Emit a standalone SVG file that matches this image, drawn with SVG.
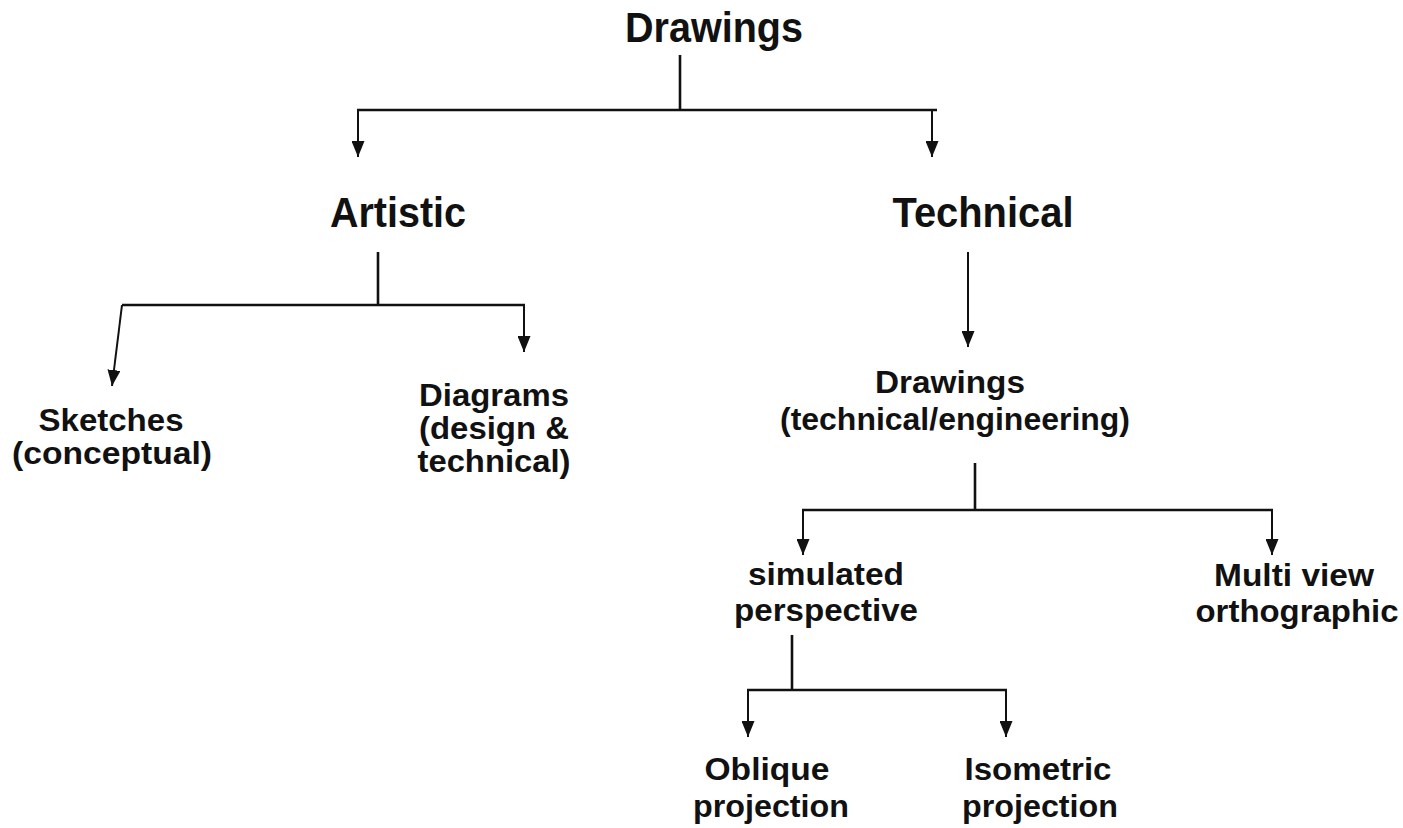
<svg xmlns="http://www.w3.org/2000/svg" width="1403" height="828" viewBox="0 0 1403 828">
<defs>
<style>
.t1{font-family:"Liberation Sans",Arial,sans-serif;font-weight:bold;font-size:42px;fill:#111;text-anchor:middle}
.t2{font-family:"Liberation Sans",Arial,sans-serif;font-weight:bold;font-size:31px;fill:#111;text-anchor:middle}
.c{stroke:#111;stroke-width:2.6;fill:none}
.a{stroke:#111;stroke-width:2;fill:none;marker-end:url(#ah)}
</style>
<marker id="ah" viewBox="0 0 16 13" refX="16" refY="6.5" markerWidth="16" markerHeight="13" markerUnits="userSpaceOnUse" orient="auto">
<path d="M0,0 L16,6.5 L0,13 z" fill="#111"/>
</marker>
</defs>
<rect width="1403" height="828" fill="#fff"/>
<g id="connectors">
<path class="c" d="M680,55 V110 M357,110 H937"/>
<path class="a" d="M358,110 V157"/>
<path class="a" d="M932,110 V157"/>
<path class="c" d="M378,252 V305 M122,305 H525"/>
<path class="a" d="M122,305 L112,386"/>
<path class="a" d="M524,305 V352"/>
<path class="a" d="M968,252 V347"/>
<path class="c" d="M975,463 V510 M802,510 H1273"/>
<path class="a" d="M803,510 V555"/>
<path class="a" d="M1272,510 V555"/>
<path class="c" d="M792,635 V690 M747,690 H1007"/>
<path class="a" d="M748,690 V737"/>
<path class="a" d="M1006,690 V737"/>
</g>
<g id="n-drawings"><text class="t1" x="714" y="42" textLength="178" lengthAdjust="spacingAndGlyphs">Drawings</text></g>
<g id="n-artistic"><text class="t1" x="398" y="227" textLength="136" lengthAdjust="spacingAndGlyphs">Artistic</text></g>
<g id="n-technical"><text class="t1" x="983" y="227" textLength="181" lengthAdjust="spacingAndGlyphs">Technical</text></g>
<g id="n-sketches"><text class="t2" x="111" y="431" textLength="145" lengthAdjust="spacingAndGlyphs">Sketches</text><text class="t2" x="112" y="464" textLength="200" lengthAdjust="spacingAndGlyphs">(conceptual)</text></g>
<g id="n-diagrams"><text class="t2" x="494" y="406" textLength="150" lengthAdjust="spacingAndGlyphs">Diagrams</text><text class="t2" x="494" y="439" textLength="150" lengthAdjust="spacingAndGlyphs">(design &amp;</text><text class="t2" x="494" y="472" textLength="153" lengthAdjust="spacingAndGlyphs">technical)</text></g>
<g id="n-drawings-tech"><text class="t2" x="950" y="393" textLength="150" lengthAdjust="spacingAndGlyphs">Drawings</text><text class="t2" x="955" y="430" textLength="350" lengthAdjust="spacingAndGlyphs">(technical/engineering)</text></g>
<g id="n-simulated"><text class="t2" x="826" y="585" textLength="156" lengthAdjust="spacingAndGlyphs">simulated</text><text class="t2" x="826" y="621" textLength="184" lengthAdjust="spacingAndGlyphs">perspective</text></g>
<g id="n-multiview"><text class="t2" x="1294" y="586" textLength="160" lengthAdjust="spacingAndGlyphs">Multi view</text><text class="t2" x="1297" y="622" textLength="203" lengthAdjust="spacingAndGlyphs">orthographic</text></g>
<g id="n-oblique"><text class="t2" x="767" y="780" textLength="125" lengthAdjust="spacingAndGlyphs">Oblique</text><text class="t2" x="771" y="817" textLength="156" lengthAdjust="spacingAndGlyphs">projection</text></g>
<g id="n-isometric"><text class="t2" x="1038" y="780" textLength="147" lengthAdjust="spacingAndGlyphs">Isometric</text><text class="t2" x="1040" y="817" textLength="156" lengthAdjust="spacingAndGlyphs">projection</text></g>
</svg>
